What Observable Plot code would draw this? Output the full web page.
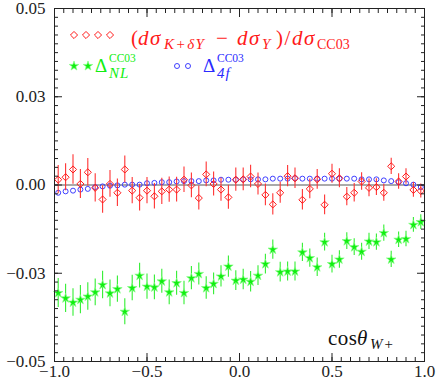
<!DOCTYPE html>
<html><head><meta charset="utf-8">
<script src="https://cdn.jsdelivr.net/npm/d3@7"></script>
<script src="https://cdn.jsdelivr.net/npm/@observablehq/plot@0.6"></script>
<style>
html,body{margin:0;padding:0;background:#fff;font-family:serif;}
#wrap{position:relative;width:436px;height:382px;}
#chart{position:absolute;left:0;top:0;width:436px;height:382px;}
#ov{position:absolute;left:0;top:0;}
svg text{font-family:serif !important;}
</style></head>
<body>
<div id="wrap">
<div id="chart"></div>
<svg id="ov" width="436" height="382" font-family="serif" text-anchor="start">
  <g id="legendSymbols"></g>
  <g fill="#ff1a1a">
    <text x="131" y="45" font-size="21">(</text>
    <text x="138" y="45" font-size="21" font-style="italic" letter-spacing="1.5">dσ</text>
    <text x="164" y="49" font-size="15" font-style="italic" letter-spacing="1.5">K+δY</text>
    <text x="216" y="45" font-size="21">−</text>
    <text x="237" y="45" font-size="21" font-style="italic" letter-spacing="1.5">dσ</text>
    <text x="262" y="49" font-size="15" font-style="italic">Y</text>
    <text x="276" y="45" font-size="21" letter-spacing="1.5">)/</text>
    <text x="292" y="45" font-size="21" font-style="italic" letter-spacing="1.5">dσ</text>
    <text x="317" y="49" font-size="14">CC03</text>
  </g>
  <g fill="#11ee11">
    <text x="95" y="72" font-size="19">Δ</text>
    <text x="109" y="62" font-size="11.5">CC03</text>
    <text x="109" y="78" font-size="15" font-style="italic" letter-spacing="1">NL</text>
  </g>
  <g fill="#2a2aff">
    <text x="203" y="72" font-size="19">Δ</text>
    <text x="217" y="62" font-size="11.5">CC03</text>
    <text x="217" y="78" font-size="15" font-style="italic" letter-spacing="1">4f</text>
  </g>
  <g fill="#111">
    <text x="328" y="345" font-size="21" letter-spacing="0.5">cos</text>
    <text x="357" y="345" font-size="21" font-style="italic">θ</text>
    <text x="370" y="349" font-size="15" font-style="italic" letter-spacing="1">W+</text>
  </g>
</svg>
</div>
<script>
// bin centres of cos(theta_W+)
const cosBins = [-0.98,-0.94,-0.90,-0.86,-0.82,-0.78,-0.74,-0.70,-0.66,-0.62,-0.58,-0.54,-0.50,-0.46,-0.42,-0.38,-0.34,-0.30,-0.26,-0.22,-0.18,-0.14,-0.10,-0.06,-0.02,0.02,0.06,0.10,0.14,0.18,0.22,0.26,0.30,0.34,0.38,0.42,0.46,0.50,0.54,0.58,0.62,0.66,0.70,0.74,0.78,0.82,0.86,0.90,0.94,0.98];
// values in units of 1e-3
const redVals = [1.5,2.2,4.4,0.3,3.6,-0.8,-4.1,0.3,-2.2,4.4,-1.6,-3.6,-1.6,-3.2,-1.8,-1.3,-1.3,1.5,-0.1,-3.7,3.0,0.3,-1.3,-3.5,1.5,1.6,2.4,0.3,-2.8,-5.5,-2.2,2.5,1.9,-4.2,-1.1,1.6,-5.6,3.2,1.9,-3.3,-2.2,1.0,-0.8,-0.6,-2.2,5.3,1.0,2.4,-1.4,-1.7];
const redErr = [4.0,3.8,4.2,4.1,3.9,4.0,3.9,3.8,3.9,3.8,3.7,3.8,3.7,3.6,3.7,3.6,3.5,3.6,3.5,3.4,3.5,3.4,3.3,3.4,3.3,3.2,3.2,3.1,3.1,3.0,3.0,3.0,2.9,2.9,2.8,2.8,2.8,2.7,2.7,2.6,2.6,2.5,2.5,2.4,2.4,2.3,2.2,2.2,2.1,2.0];
const greenVals = [-30.6,-32.1,-33.3,-32.5,-31.6,-30.4,-28.3,-30.7,-29.5,-35.9,-29.2,-25.7,-28.8,-29.0,-27.3,-30.4,-27.8,-30.6,-26.4,-25.2,-29.2,-28.0,-25.9,-23.1,-27.1,-26.8,-27.4,-25.7,-22.4,-18.3,-24.7,-24.5,-24.5,-19.1,-20.7,-23.3,-16.2,-22.4,-21.1,-15.9,-17.6,-18.9,-16.0,-16.2,-13.6,-21.1,-15.5,-15.3,-11.3,-10.5];
const greenErr = [4.1,4.0,3.9,4.0,3.9,3.8,3.9,3.8,3.7,3.7,3.6,3.5,3.6,3.5,3.4,3.5,3.4,3.3,3.3,3.1,3.2,3.1,3.0,3.0,2.8,2.9,2.9,2.8,2.8,2.7,2.8,2.7,2.7,2.6,2.6,2.6,2.5,2.5,2.5,2.4,2.4,2.4,2.3,2.3,2.3,2.3,2.2,2.2,2.1,2.1];
const blueVals = [-2.2,-1.8,-1.6,-1.3,-1.1,-0.6,-0.4,-0.2,-0.1,0.1,0.1,0.1,0.5,0.6,0.8,0.8,1.0,1.1,1.1,1.1,1.3,1.3,1.5,1.5,1.5,1.6,1.6,1.6,1.6,1.8,1.8,1.8,1.9,1.8,1.8,1.8,1.8,1.8,1.8,1.8,1.8,1.6,1.6,1.6,1.3,1.1,0.8,0.5,0.1,-0.6];

const xMajor = [-1,-0.5,0,0.5,1];
const xTickLabels = ["\u22121.0","\u22120.5","0.0","0.5","1.0"];
const yMajor = [-0.05,-0.025,0,0.025,0.05];
const yTickLabels = ["\u22120.05","\u22120.03","0.00","0.03","0.05"];
const xMinor = d3.range(-20,21).map(i => i*0.05);
const yMinor = d3.range(-20,21).map(i => i*0.0025);

const red = cosBins.map((x,i)=>({x, y: redVals[i]/1000, lo:(redVals[i]-redErr[i])/1000, hi:(redVals[i]+redErr[i])/1000}));
const green = cosBins.map((x,i)=>({x, y: greenVals[i]/1000, lo:(greenVals[i]-greenErr[i])/1000, hi:(greenVals[i]+greenErr[i])/1000}));
const blue = cosBins.map((x,i)=>({x, y: blueVals[i]/1000}));

const xLab = new Map(xMajor.map((v,i)=>[v,xTickLabels[i]]));
const yLab = new Map(yMajor.map((v,i)=>[v,yTickLabels[i]]));
const axisColor = "#222";
const RED = "#ff1a1a", GREEN = "#11ee11", BLUE = "#2a2aff";

const plot = Plot.plot({
  width: 436, height: 382,
  marginLeft: 54, marginRight: 12, marginTop: 8, marginBottom: 21,
  x: {domain: [-1,1]},
  y: {domain: [-0.05,0.05]},
  style: {fontFamily: "serif", fontSize: "17px", color: axisColor, background: "#fff"},
  marks: [
    Plot.ruleY([0], {stroke: "#aaa", strokeWidth: 2}),
    Plot.ruleX(green, {x: "x", y1: "lo", y2: "hi", stroke: "#33ee33", strokeWidth: 1.1}),
    Plot.dot(green, {x: "x", y: "y", symbol: "star", r: 3, fill: GREEN, stroke: "#88ff88", strokeWidth: 0.7}),
    Plot.dot(blue, {x: "x", y: "y", symbol: "circle", r: 2.5, fill: "none", stroke: BLUE, strokeWidth: 0.9}),
    Plot.ruleX(red, {x: "x", y1: "lo", y2: "hi", stroke: "#ff3333", strokeWidth: 1.1}),
    Plot.dot(red, {x: "x", y: "y", symbol: "diamond2", r: 3.2, fill: "none", stroke: RED, strokeWidth: 1}),
    Plot.frame({stroke: axisColor, strokeWidth: 1}),
    // inward ticks on all four sides
    Plot.axisX({anchor: "bottom", ticks: xMinor, tickSize: -4, text: null, label: null, stroke: axisColor}),
    Plot.axisX({anchor: "top", ticks: xMinor, tickSize: -4, text: null, label: null, stroke: axisColor}),
    Plot.axisX({anchor: "bottom", ticks: xMajor, tickSize: -8, text: null, label: null, stroke: axisColor}),
    Plot.axisX({anchor: "top", ticks: xMajor, tickSize: -8, text: null, label: null, stroke: axisColor}),
    Plot.axisY({anchor: "left", ticks: yMinor, tickSize: -4, text: null, label: null, stroke: axisColor}),
    Plot.axisY({anchor: "right", ticks: yMinor, tickSize: -4, text: null, label: null, stroke: axisColor}),
    Plot.axisY({anchor: "left", ticks: yMajor, tickSize: -8, text: null, label: null, stroke: axisColor}),
    Plot.axisY({anchor: "right", ticks: yMajor, tickSize: -8, text: null, label: null, stroke: axisColor}),
    Plot.axisX({anchor: "bottom", ticks: xMajor, tickSize: 0, tickPadding: 3, tickFormat: d => xLab.get(d), label: null, fill: axisColor}),
    Plot.axisY({anchor: "left", ticks: yMajor, tickSize: 0, tickPadding: 9, tickFormat: d => yLab.get(d), label: null, fill: axisColor})
  ]
});
document.getElementById("chart").appendChild(plot);

// legend symbols
const g = d3.select("#legendSymbols");
const sym = (type, r) => d3.symbol(type, r*r*Math.PI)();
[74,86,98,110].forEach(x => g.append("path").attr("d", sym(d3.symbolDiamond2,3.2)).attr("transform",`translate(${x},35)`).attr("fill","none").attr("stroke",RED));
[74,88].forEach(x => g.append("path").attr("d", sym(d3.symbolStar,3)).attr("transform",`translate(${x},66)`).attr("fill",GREEN).attr("stroke","#88ff88").attr("stroke-width",0.7));
[177,188].forEach(x => g.append("path").attr("d", sym(d3.symbolCircle,2.5)).attr("transform",`translate(${x},66)`).attr("fill","none").attr("stroke",BLUE).attr("stroke-width",0.9));
</script></body></html>
